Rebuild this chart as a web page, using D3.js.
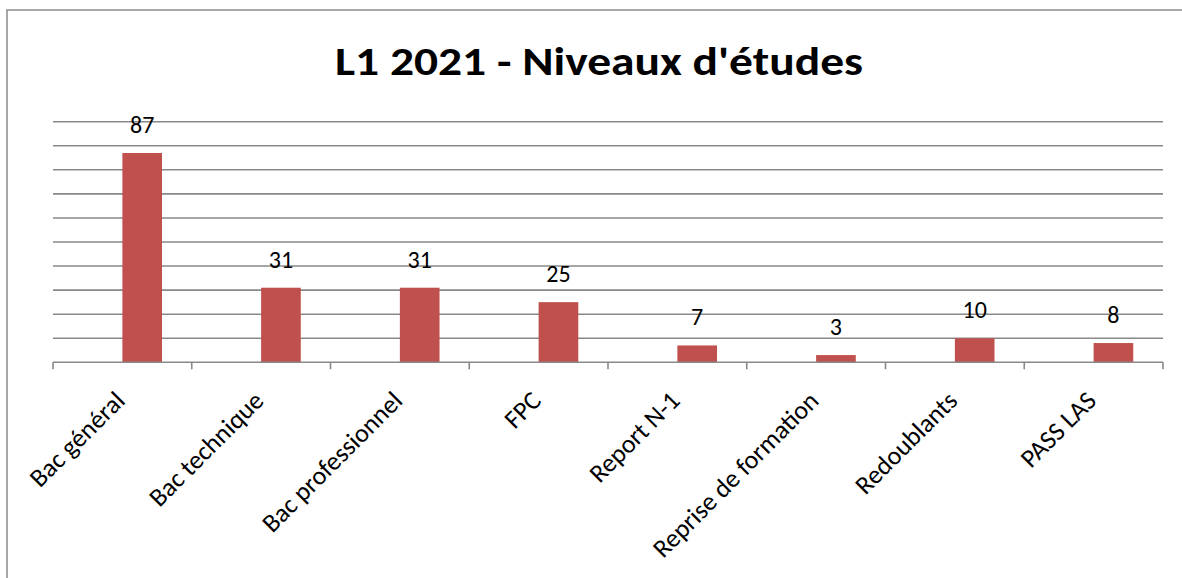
<!DOCTYPE html>
<html>
<head>
<meta charset="utf-8">
<script src="https://cdn.jsdelivr.net/npm/d3@7"></script>
<style>
  html, body { margin: 0; padding: 0; background: #fff; }
  svg { display: block; }
</style>
</head>
<body>
<svg id="chart" width="1182" height="578"></svg>
<script>
const title = "L1 2021 - Niveaux d'études";
const categories = ["Bac général", "Bac technique", "Bac professionnel", "FPC", "Report N-1", "Reprise de formation", "Redoublants", "PASS LAS"];
const series = ["", "Effectif"];            // first series empty in source chart
const values = [87, 31, 31, 25, 7, 3, 10, 8];
const yTicks = [0, 10, 20, 30, 40, 50, 60, 70, 80, 90, 100];

const svg = d3.select("#chart");
const W = 1182, H = 578;
const plot = { left: 53, right: 1163, top: 121.7, bottom: 362.3 };
const font = "Carlito, Calibri, 'Open Sans', sans-serif";

// outer frame
svg.append("rect")
  .attr("x", 7).attr("y", 10)
  .attr("width", W + 20).attr("height", H + 20)
  .attr("fill", "#fff").attr("stroke", "#8c8c8c").attr("stroke-width", 1.5);

const x = d3.scaleBand().domain(categories).range([plot.left, plot.right]).paddingInner(0).paddingOuter(0);
const xs = d3.scaleBand().domain(series).range([0, x.bandwidth()]).paddingInner(0).paddingOuter(0.75);
const y = d3.scaleLinear().domain([0, 100]).range([plot.bottom, plot.top]);

// gridlines
svg.append("g")
  .selectAll("line").data(yTicks.filter(d => d > 0)).join("line")
  .attr("x1", plot.left).attr("x2", plot.right)
  .attr("y1", d => y(d)).attr("y2", d => y(d))
  .attr("stroke", "#898989").attr("stroke-width", 1.6);

// bars
svg.append("g")
  .selectAll("rect").data(values).join("rect")
  .attr("x", (d, i) => x(categories[i]) + xs("Effectif"))
  .attr("y", d => y(d))
  .attr("width", xs.bandwidth())
  .attr("height", d => y(0) - y(d))
  .attr("fill", "#C0504D");

// x axis
const xAxis = svg.append("g").attr("transform", `translate(0,${plot.bottom})`);
xAxis.append("line")
  .attr("x1", plot.left).attr("x2", plot.right)
  .attr("y1", 0).attr("y2", 0)
  .attr("stroke", "#898989").attr("stroke-width", 1.6);
const bounds = categories.map(c => x(c)).concat([plot.right]);
xAxis.selectAll("line.tick").data(bounds).join("line")
  .attr("class", "tick")
  .attr("x1", d => d).attr("x2", d => d)
  .attr("y1", 0).attr("y2", 7)
  .attr("stroke", "#898989").attr("stroke-width", 1.6);

// category labels rotated
svg.append("g")
  .selectAll("text").data(categories).join("text")
  .attr("transform", d => `translate(${x(d) + x.bandwidth() / 2 + 4},${plot.bottom + 40}) rotate(-45)`)
  .attr("text-anchor", "end")
  .attr("font-family", font)
  .attr("font-size", 26)
  .attr("fill", "#000")
  .text(d => d);

// data labels
svg.append("g")
  .selectAll("text").data(values).join("text")
  .attr("x", (d, i) => x(categories[i]) + xs("Effectif") + xs.bandwidth() / 2)
  .attr("y", d => y(d) - 20)
  .attr("text-anchor", "middle")
  .attr("font-family", font)
  .attr("font-size", 24)
  .attr("fill", "#000")
  .text(d => d);

// title
svg.append("text")
  .attr("x", 599).attr("y", 75)
  .attr("text-anchor", "middle")
  .attr("font-family", font)
  .attr("font-weight", "bold")
  .attr("font-size", 41)
  .attr("textLength", 528)
  .attr("lengthAdjust", "spacingAndGlyphs")
  .attr("fill", "#000")
  .text(title);
</script>
</body>
</html>
